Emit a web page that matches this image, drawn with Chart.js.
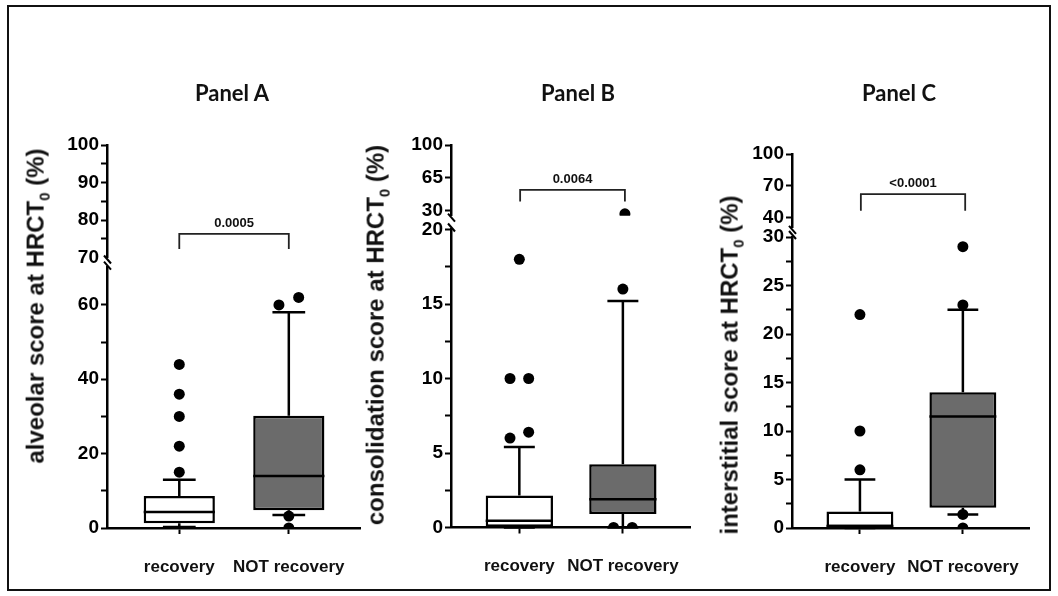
<!DOCTYPE html>
<html>
<head>
<meta charset="utf-8">
<script src="https://cdn.jsdelivr.net/npm/chart.js@4/dist/chart.umd.min.js"></script>
<style>
  html, body { margin: 0; padding: 0; background: #fff; }
  #page { position: relative; width: 1058px; height: 596px; overflow: hidden; }
  #frame { position: absolute; left: 7px; top: 5px; width: 1044px; height: 586px; box-sizing: border-box; border: 2px solid #111; }
  .panel-title { position: absolute; top: 92px; font: bold 22px Lato, "Open Sans", sans-serif; color: #111; transform: translate(-50%, -50%); white-space: nowrap; }
  .y-title { position: absolute; font: bold 24px "Liberation Sans", Arial, sans-serif; color: #111; transform: translate(-50%, -50%) rotate(-90deg); white-space: nowrap; }
  .y-title sub { font-size: 0.62em; }
  canvas { position: absolute; }
</style>
</head>
<body>
<div id="page">
  <div id="frame"></div>
</div>
<script>
const groups = ['recovery', 'NOT recovery'];

// box rows: [low whisker, Q1, median, Q3, high whisker]
const alveolarBoxes = [
  [0.3, 1.3, 4.3, 8.6, 13],
  [3.5, 4.8, 14, 30.2, 58]
];
const alveolarOutliers = [
  [15, 22, 30, 36, 44],
  [0, 3.2, 60, 62]
];
const alveolarTicksUpper = [70, 80, 90, 100];
const alveolarMinorUpper = [75, 85, 95];
const alveolarTicksLower = [0, 20, 40, 60];
const alveolarMinorLower = [10, 30, 50];

const consolidationBoxes = [
  [0, 0.05, 0.45, 2.15, 5.4],
  [0, 0.9, 1.9, 4.25, 15.2]
];
const consolidationOutliers = [
  [6, 6.4, 10, 10, 18],
  [0, 0, 16, 27]
];
const consolidationTicksUpper = [30, 65, 100];
const consolidationTicksLower = [0, 5, 10, 15, 20];
const consolidationMinorLower = [2.5, 7.5, 12.5, 17.5];

const interstitialBoxes = [
  [0, 0.1, 0.2, 1.7, 5],
  [1.4, 2.1, 11.5, 14, 22.5]
];
const interstitialOutliers = [
  [6, 10, 22],
  [0, 1.4, 23, 29]
];
const interstitialTicksUpper = [40, 70, 100];
const interstitialTicksLower = [0, 5, 10, 15, 20, 25, 30];
const interstitialMinorLower = [2.5, 7.5, 12.5, 17.5, 22.5, 27.5];

const pValues = ['0.0005', '0.0064', '<0.0001'];

const FONT = '"Liberation Sans", Arial, sans-serif';
const AXIS_W = 60, TOP = 100, H = 490, X_AXIS_H = 50, RIGHT_PAD = 12;
const boxFills = ['#ffffff', '#6b6b6b'];

const panels = [
  {
    title: 'Panel A', titleX: 232, yTitle: 'alveolar score at HRCT', yTitleX: 37, yTitleY: 306,
    boxes: alveolarBoxes, outliers: alveolarOutliers, p: pValues[0],
    upper: { min: 70, max: 100, ticks: alveolarTicksUpper, minor: alveolarMinorUpper, top: 145, bottom: 257.5 },
    lower: { min: 0, max: 70, ticks: alveolarTicksLower, minor: alveolarMinorLower, top: 267.7, bottom: 528 },
    axisX: 107, right: 360, bracket: [76.3, 72.3], tieGap: 3
  },
  {
    title: 'Panel B', titleX: 578, yTitle: 'consolidation score at HRCT', yTitleX: 377, yTitleY: 335,
    boxes: consolidationBoxes, outliers: consolidationOutliers, p: pValues[1],
    upper: { min: 25, max: 100, ticks: consolidationTicksUpper, minor: [], top: 145, bottom: 215.7 },
    lower: { min: 0, max: 20, ticks: consolidationTicksLower, minor: consolidationMinorLower, top: 229.5, bottom: 527.5 },
    axisX: 451, right: 693, bracket: [52.3, 40], tieGap: 0.75
  },
  {
    title: 'Panel C', titleX: 899, yTitle: 'interstitial score at HRCT', yTitleX: 731, yTitleY: 365,
    boxes: interstitialBoxes, outliers: interstitialOutliers, p: pValues[2],
    upper: { min: 30, max: 100, ticks: interstitialTicksUpper, minor: [], top: 154, bottom: 227.9 },
    lower: { min: 0, max: 30, ticks: interstitialTicksLower, minor: interstitialMinorLower, top: 237, bottom: 528 },
    axisX: 792, right: 1033, bracket: [62, 46.3], tieGap: 1.1
  }
];

const page = document.getElementById('page');

// tied outliers sit side by side around the group centre
function spreadTies(values, centre, gap) {
  const sorted = [...values].sort((a, b) => a - b);
  const pts = [];
  let i = 0;
  while (i < sorted.length) {
    let j = i;
    while (j + 1 < sorted.length && sorted[j + 1] - sorted[i] < gap) j++;
    const n = j - i + 1;
    for (let k = i; k <= j; k++) {
      pts.push({ x: centre + (k - i - (n - 1) / 2) * 0.18, y: sorted[k] });
    }
    i = j + 1;
  }
  return pts;
}

function addCanvas(left, width) {
  const c = document.createElement('canvas');
  c.width = width;
  c.height = H;
  c.style.left = left + 'px';
  c.style.top = TOP + 'px';
  page.appendChild(c);
  return c;
}

function addText(cls, html, x, y) {
  const d = document.createElement('div');
  d.className = cls;
  d.innerHTML = html;
  d.style.left = x + 'px';
  if (y !== undefined) d.style.top = y + 'px';
  page.appendChild(d);
}

function yScale(seg, isUpper) {
  return {
    type: 'linear', position: 'left', min: seg.min, max: seg.max,
    afterFit: s => { s.width = AXIS_W; },
    afterBuildTicks: s => {
      s.ticks = [...seg.ticks, ...seg.minor].sort((a, b) => a - b).map(v => ({ value: v }));
    },
    ticks: {
      autoSkip: false, padding: 2, color: '#000',
      font: { family: FONT, size: 19, weight: 'bold' },
      callback: v => seg.ticks.includes(v) ? String(v) : ''
    },
    grid: {
      drawOnChartArea: false, tickLength: 6, tickWidth: 2,
      tickColor: c => (isUpper && c.tick && c.tick.value === seg.min) ? 'rgba(0,0,0,0)' : '#000'
    },
    border: { color: '#000', width: 2.5 }
  };
}

function xScale(show) {
  const sc = { type: 'linear', min: -0.66, max: 1.65, offset: false, display: show };
  if (!show) return sc;
  return Object.assign(sc, {
    afterFit: s => { s.height = X_AXIS_H; },
    afterBuildTicks: s => { s.ticks = groups.map((g, i) => ({ value: i })); },
    ticks: {
      autoSkip: false, maxRotation: 0, padding: 23, color: '#111',
      font: { family: FONT, size: 17, weight: 'bold' },
      callback: v => groups[v]
    },
    grid: { offset: false, drawOnChartArea: false, tickLength: 6, tickWidth: 2, tickColor: '#000' },
    border: { color: '#000', width: 2.5 }
  });
}

const dotStyle = { pointRadius: 5.5, pointHoverRadius: 5.5, pointBackgroundColor: '#000', pointBorderWidth: 0 };

const common = {
  responsive: false, animation: false, events: [],
  plugins: { legend: { display: false }, tooltip: { enabled: false } }
};

// whiskers, caps and median line for each box
function boxPlot(panel) {
  return {
    id: 'boxPlot',
    beforeDatasetsDraw(chart) {
      const { ctx } = chart, y = chart.scales.y;
      const bars = chart.getDatasetMeta(1).data;
      ctx.save();
      ctx.strokeStyle = '#000';
      ctx.lineWidth = 2.5;
      panel.boxes.forEach((b, i) => {
        const cx = bars[i].x, cap = bars[i].width * 0.23;
        const lo = y.getPixelForValue(b[0]), q1 = y.getPixelForValue(b[1]);
        const q3 = y.getPixelForValue(b[3]), hi = y.getPixelForValue(b[4]);
        ctx.beginPath();
        ctx.moveTo(cx, q3); ctx.lineTo(cx, hi);
        ctx.moveTo(cx - cap, hi); ctx.lineTo(cx + cap, hi);
        ctx.moveTo(cx, q1); ctx.lineTo(cx, lo);
        ctx.moveTo(cx - cap, lo); ctx.lineTo(cx + cap, lo);
        ctx.stroke();
      });
      ctx.restore();
    },
    afterDatasetsDraw(chart) {
      const { ctx } = chart, y = chart.scales.y;
      const bars = chart.getDatasetMeta(1).data;
      ctx.save();
      ctx.strokeStyle = '#000';
      ctx.lineWidth = 2.5;
      panel.boxes.forEach((b, i) => {
        const half = bars[i].width / 2, m = y.getPixelForValue(b[2]);
        ctx.beginPath();
        ctx.moveTo(bars[i].x - half, m); ctx.lineTo(bars[i].x + half, m);
        ctx.stroke();
      });
      ctx.restore();
    }
  };
}

function bracket(panel) {
  return {
    id: 'bracket',
    afterDatasetsDraw(chart) {
      const { ctx } = chart, x = chart.scales.x, y = chart.scales.y;
      const x0 = x.getPixelForValue(0), x1 = x.getPixelForValue(1);
      const yTop = y.getPixelForValue(panel.bracket[0]), yEnd = y.getPixelForValue(panel.bracket[1]);
      ctx.save();
      ctx.strokeStyle = '#222';
      ctx.lineWidth = 1.8;
      ctx.beginPath();
      ctx.moveTo(x0, yEnd); ctx.lineTo(x0, yTop); ctx.lineTo(x1, yTop); ctx.lineTo(x1, yEnd);
      ctx.stroke();
      ctx.fillStyle = '#111';
      ctx.font = 'bold 13px ' + FONT;
      ctx.textAlign = 'center';
      ctx.textBaseline = 'bottom';
      ctx.fillText(panel.p, (x0 + x1) / 2, yTop - 4);
      ctx.restore();
    }
  };
}

// slanted tick marking the axis break
function breakMark(side) {
  return {
    id: 'breakMark',
    afterDraw(chart) {
      const { ctx, chartArea } = chart;
      const x = chartArea.left;
      const y = side === 'bottom' ? chartArea.bottom : chartArea.top;
      ctx.save();
      ctx.strokeStyle = '#000';
      ctx.lineWidth = 2;
      ctx.beginPath();
      if (side === 'bottom') { ctx.moveTo(x - 3, y - 2); ctx.lineTo(x + 4, y + 6); }
      else { ctx.moveTo(x - 3, y - 6); ctx.lineTo(x + 4, y + 2); }
      ctx.stroke();
      ctx.restore();
    }
  };
}

panels.forEach(panel => {
  const width = AXIS_W + (panel.right - panel.axisX) + RIGHT_PAD;
  const left = panel.axisX - AXIS_W;

  const pts = panel.outliers.flatMap((vals, i) => spreadTies(vals, i, panel.tieGap));
  const lowerPts = pts.filter(p => p.y <= panel.lower.max);
  const upperPts = pts.filter(p => p.y > panel.lower.max);

  new Chart(addCanvas(left, width), {
    type: 'bar',
    data: {
      datasets: [
        Object.assign({ type: 'scatter', data: lowerPts, order: 0 }, dotStyle),
        {
          type: 'bar',
          data: panel.boxes.map((b, i) => ({ x: i, y: [b[1], b[3]] })),
          backgroundColor: boxFills, borderColor: '#000', borderWidth: 2.5, borderSkipped: false,
          barPercentage: 0.65, categoryPercentage: 1, order: 1
        }
      ]
    },
    options: Object.assign({}, common, {
      layout: {
        autoPadding: false,
        padding: { top: panel.lower.top - TOP, bottom: TOP + H - panel.lower.bottom - X_AXIS_H, left: 0, right: RIGHT_PAD }
      },
      scales: { x: xScale(true), y: yScale(panel.lower, false) }
    }),
    plugins: [boxPlot(panel), breakMark('top')]
  });

  new Chart(addCanvas(left, width), {
    type: 'scatter',
    data: { datasets: [Object.assign({ data: upperPts }, dotStyle)] },
    options: Object.assign({}, common, {
      layout: {
        autoPadding: false,
        padding: { top: panel.upper.top - TOP, bottom: TOP + H - panel.upper.bottom, left: 0, right: RIGHT_PAD }
      },
      scales: { x: xScale(false), y: yScale(panel.upper, true) }
    }),
    plugins: [bracket(panel), breakMark('bottom')]
  });

  addText('panel-title', panel.title, panel.titleX);
  addText('y-title', panel.yTitle + '<sub>0</sub> (%)', panel.yTitleX, panel.yTitleY);
});
</script>
</body>
</html>
